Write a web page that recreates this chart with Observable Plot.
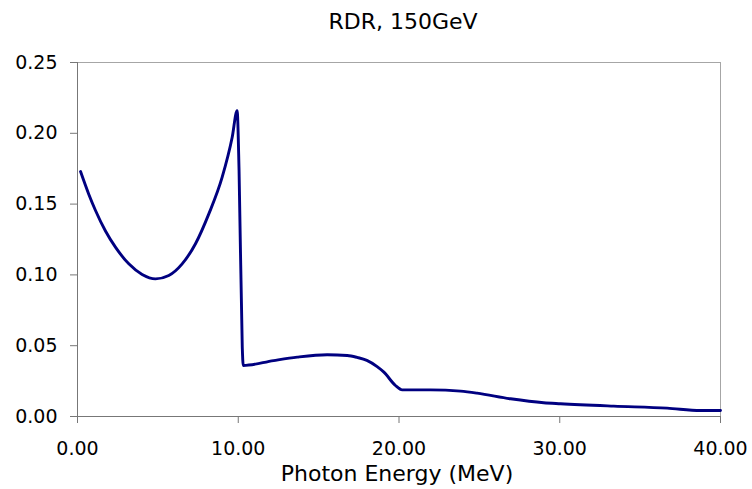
<!DOCTYPE html>
<html>
<head>
<meta charset="utf-8">
<script src="https://cdn.jsdelivr.net/npm/d3@7"></script>
<script src="https://cdn.jsdelivr.net/npm/@observablehq/plot@0.6"></script>
<style>
  body { margin: 0; background: #fff; }
</style>
</head>
<body>
<div id="chart"></div>
<script>
// Relative detection rate versus photon energy, 150 GeV beam
const energy = [0.19, 0.70, 1.12, 1.74, 2.36, 3.19, 4.02, 4.85, 5.68, 6.51, 7.34, 8.17, 9.0, 9.62, 9.93,
  10.05, 10.25, 10.31, 12.2, 13.67, 15.53, 16.78, 17.4, 18.0, 18.64, 19.06, 19.78, 20.2, 21.96,
  23.83, 24.86, 26.94, 29.0, 30.05, 33.36, 36.68, 38.76, 40];
const rdr = [0.173, 0.157, 0.1455, 0.131, 0.1196, 0.1078, 0.1003, 0.0972, 0.0996, 0.1078, 0.122, 0.1431, 0.169, 0.197, 0.216,
  0.174, 0.049, 0.036, 0.0395, 0.0419, 0.0436, 0.0431, 0.0417, 0.0396, 0.0352, 0.0313, 0.0219, 0.0188, 0.0188,
  0.0179, 0.0165, 0.0125, 0.0097, 0.009, 0.0073, 0.0059, 0.0042, 0.0042];

const xTicks = [0, 10, 20, 30, 40];
const yTicks = [0, 0.05, 0.10, 0.15, 0.20, 0.25];
const title = "RDR, 150GeV";
const xLabel = "Photon Energy (MeV)";

const data = energy.map((e, i) => ({energy: e, rdr: rdr[i]}));
const fmt = d3.format(".2f");

const chart = Plot.plot({
  width: 752,
  height: 489,
  marginLeft: 77,
  marginRight: 32,
  marginTop: 62,
  marginBottom: 73,
  style: {fontFamily: "DejaVu Sans", background: "#fff", color: "#000"},
  x: {domain: [0, 40]},
  y: {domain: [0, 0.25]},
  marks: [
    // light border on the top and right of the plot area
    Plot.ruleY([0.25], {stroke: "#a6a6a6"}),
    Plot.ruleX([40], {stroke: "#a6a6a6"}),
    Plot.axisY(yTicks, {tickFormat: fmt, tickSize: 7, tickPadding: 13, fontSize: 19, stroke: "#777", fill: "#000", label: null}),
    Plot.axisX(xTicks, {tickFormat: fmt, tickSize: 7, tickPadding: 18, fontSize: 19, stroke: "#777", fill: "#000", label: null}),
    Plot.ruleX([0], {stroke: "#777"}),
    Plot.ruleY([0], {stroke: "#777"}),
    Plot.line(data, {x: "energy", y: "rdr", stroke: "#000080", strokeWidth: 2.9, strokeLinejoin: "round", curve: "monotone-x"}),
    Plot.text([title], {text: d => d, frameAnchor: "top", dx: 4, dy: -34, lineAnchor: "bottom", fontSize: 22, fill: "#000"}),
    Plot.text([xLabel], {text: d => d, frameAnchor: "bottom", dx: -2, dy: 64, lineAnchor: "bottom", fontSize: 22, fill: "#000"})
  ]
});

document.getElementById("chart").append(chart);
</script>
</body>
</html>
